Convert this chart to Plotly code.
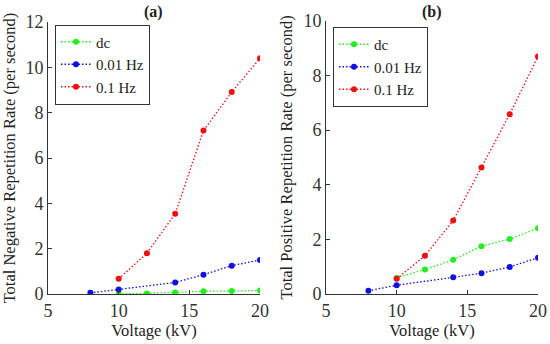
import plotly.graph_objects as go

# Panel (a): total negative repetition rate
a_dc_x = [10, 12, 14, 16, 18, 20]
a_dc_y = [0.0, 0.02, 0.07, 0.12, 0.13, 0.15]
a_001_x = [8, 10, 14, 16, 18, 20]
a_001_y = [0.05, 0.2, 0.51, 0.85, 1.25, 1.5]
a_01_x = [10, 12, 14, 16, 18, 20]
a_01_y = [0.67, 1.8, 3.54, 7.21, 8.91, 10.4]

# Panel (b): total positive repetition rate
b_dc_x = [10, 12, 14, 16, 18, 20]
b_dc_y = [0.59, 0.9, 1.25, 1.75, 2.01, 2.41]
b_001_x = [8, 10, 14, 16, 18, 20]
b_001_y = [0.12, 0.32, 0.61, 0.76, 0.99, 1.33]
b_01_x = [10, 12, 14, 16, 18, 20]
b_01_y = [0.56, 1.4, 2.69, 4.63, 6.58, 8.69]

names = ["dc", "0.01 Hz", "0.1 Hz"]
colors = ["#22ee22", "#1010e0", "#ee1010"]
x_ticks = [5, 10, 15, 20]

FONT = "Times New Roman, Liberation Serif, serif"

fig = go.Figure()

def add(x, y, name, color, xa, ya, legend):
    fig.add_trace(go.Scatter(
        x=x, y=y, name=name, mode="lines+markers",
        line=dict(color=color, width=1.3, dash="1.5px,2px"),
        marker=dict(color=color, size=6),
        xaxis=xa, yaxis=ya, legend=legend,
    ))

for (x, y), n, c in zip([(a_dc_x, a_dc_y), (a_001_x, a_001_y), (a_01_x, a_01_y)], names, colors):
    add(x, y, n, c, "x", "y", "legend")
for (x, y), n, c in zip([(b_dc_x, b_dc_y), (b_001_x, b_001_y), (b_01_x, b_01_y)], names, colors):
    add(x, y, n, c, "x2", "y2", "legend2")

axis_common = dict(
    showline=True, linecolor="#333333", linewidth=1, mirror=False,
    ticks="inside", ticklen=4, tickcolor="#333333",
    showgrid=False, zeroline=False, automargin=False,
    tickfont=dict(family=FONT, size=18, color="#333333"),
    title_font=dict(family=FONT, size=16.5, color="#222222"),
)

W, H = 550, 344
fig.update_layout(
    width=W, height=H,
    margin=dict(l=0, r=0, t=0, b=0),
    paper_bgcolor="white", plot_bgcolor="white",
    font=dict(family=FONT, color="#222222"),
    xaxis=dict(domain=[48 / W, 260 / W], range=[5, 20], tickvals=x_ticks,
               title=dict(text="Voltage (kV)", standoff=2), anchor="y", **axis_common),
    yaxis=dict(domain=[(H - 294) / H, (H - 22) / H], range=[0, 12], dtick=2,
               title=dict(text="Total Negative Repetition Rate (per second)", standoff=6),
               anchor="x", **axis_common),
    xaxis2=dict(domain=[326 / W, 538 / W], range=[5, 20], tickvals=x_ticks,
                title=dict(text="Voltage (kV)", standoff=2), anchor="y2", **axis_common),
    yaxis2=dict(domain=[(H - 294) / H, (H - 20.7) / H], range=[0, 10], dtick=2,
                title=dict(text="Total Positive Repetition Rate (per second)", standoff=6),
                anchor="x2", **axis_common),
    legend=dict(x=55 / W, y=1 - 24.5 / H, xanchor="left", yanchor="top",
                bordercolor="#333333", borderwidth=1, bgcolor="white",
                font=dict(family=FONT, size=15, color="#222222"),
                tracegroupgap=0),
    legend2=dict(x=333 / W, y=1 - 27 / H, xanchor="left", yanchor="top",
                 bordercolor="#333333", borderwidth=1, bgcolor="white",
                 font=dict(family=FONT, size=15, color="#222222"),
                 tracegroupgap=0),
    annotations=[
        dict(text="<b>(a)</b>", x=153 / W, y=1 - 12 / H, xref="paper", yref="paper",
             xanchor="center", yanchor="middle",
             showarrow=False, font=dict(family=FONT, size=16, color="#222222")),
        dict(text="<b>(b)</b>", x=432 / W, y=1 - 12 / H, xref="paper", yref="paper",
             xanchor="center", yanchor="middle",
             showarrow=False, font=dict(family=FONT, size=16, color="#222222")),
    ],
)

fig.write_html("out.html", config={"displayModeBar": False},
               post_script="document.body.style.margin='0';document.body.style.padding='0';")
